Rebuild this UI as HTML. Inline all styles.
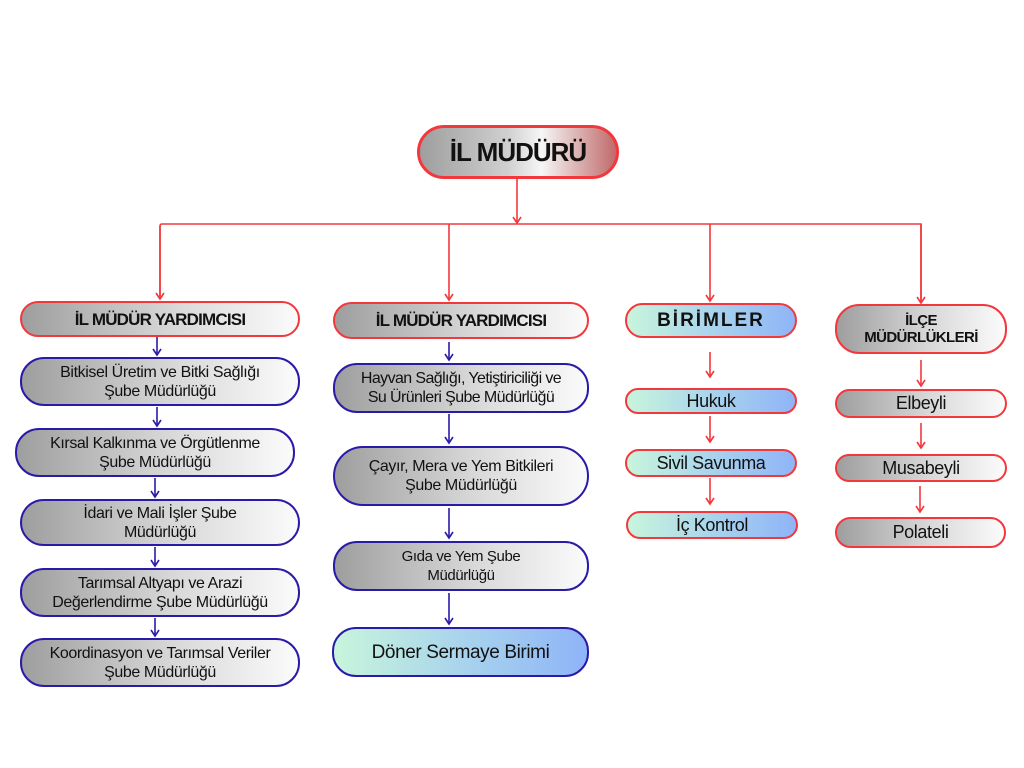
<!DOCTYPE html>
<html><head><meta charset="utf-8"><style>
body{margin:0;width:1024px;height:768px;background:#fff;position:relative;overflow:hidden;font-family:"Liberation Sans","DejaVu Sans",sans-serif}
.b{position:absolute;box-sizing:border-box;border-radius:24px;display:flex;align-items:center;justify-content:center;text-align:center;color:#111;font-size:15px;line-height:19px;letter-spacing:-0.4px}
.g{background:linear-gradient(90deg,#9e9e9e,#d8d8d8 55%,#fbfbfb)}
.r{border:2px solid #f2383c}
.u{border:2px solid #2a1aa8}
.c{background:linear-gradient(90deg,#c8f5dc,#a9d4ec 50%,#8fb4f8)}
.h{font-weight:bold;font-size:16px}
svg{position:absolute;left:0;top:0}
</style></head><body>
<svg width="1024" height="768">
<defs>
<marker id="ar" markerWidth="12" markerHeight="12" refX="9" refY="6" orient="auto" markerUnits="userSpaceOnUse"><path d="M3,2 L9,6 L3,10" fill="none" stroke="#f2383c" stroke-width="1.6"/></marker>
<marker id="ab" markerWidth="12" markerHeight="12" refX="9" refY="6" orient="auto" markerUnits="userSpaceOnUse"><path d="M3,2 L9,6 L3,10" fill="none" stroke="#2a1aa8" stroke-width="1.6"/></marker>
</defs>
<g stroke="#f2383c" stroke-width="1.6" fill="none">
<line x1="517" y1="178" x2="517" y2="223" marker-end="url(#ar)"/>
<path d="M160 299 V226 Q160 224 162 224 H921 V302"/>
<line x1="160" y1="226" x2="160" y2="299" marker-end="url(#ar)"/>
<line x1="449" y1="224" x2="449" y2="300" marker-end="url(#ar)"/>
<line x1="710" y1="224" x2="710" y2="301" marker-end="url(#ar)"/>
<line x1="921" y1="224" x2="921" y2="303" marker-end="url(#ar)"/>
<line x1="710" y1="352" x2="710" y2="377" marker-end="url(#ar)"/>
<line x1="710" y1="416" x2="710" y2="442" marker-end="url(#ar)"/>
<line x1="710" y1="478" x2="710" y2="504" marker-end="url(#ar)"/>
<line x1="921" y1="360" x2="921" y2="386" marker-end="url(#ar)"/>
<line x1="921" y1="423" x2="921" y2="448" marker-end="url(#ar)"/>
<line x1="920" y1="486" x2="920" y2="512" marker-end="url(#ar)"/>
</g>
<g stroke="#2a1aa8" stroke-width="1.6" fill="none">
<line x1="157" y1="337" x2="157" y2="355" marker-end="url(#ab)"/>
<line x1="157" y1="407" x2="157" y2="426" marker-end="url(#ab)"/>
<line x1="155" y1="478" x2="155" y2="497" marker-end="url(#ab)"/>
<line x1="155" y1="547" x2="155" y2="566" marker-end="url(#ab)"/>
<line x1="155" y1="618" x2="155" y2="636" marker-end="url(#ab)"/>
<line x1="449" y1="342" x2="449" y2="360" marker-end="url(#ab)"/>
<line x1="449" y1="414" x2="449" y2="443" marker-end="url(#ab)"/>
<line x1="449" y1="508" x2="449" y2="538" marker-end="url(#ab)"/>
<line x1="449" y1="593" x2="449" y2="624" marker-end="url(#ab)"/>
</g>
</svg>
<div class="b r h" style="left:417px;top:125px;width:202px;height:54px;border-radius:27px;border-width:3px;font-size:26px;letter-spacing:-1px;background:linear-gradient(90deg,#9e9e9e,#d0d0d0 45%,#f6f6f6 62%,#c06a6a)">İL MÜDÜRÜ</div>

<div class="b r g h" style="left:20px;top:301px;width:280px;height:36px;font-size:17px;letter-spacing:-0.8px">İL MÜDÜR YARDIMCISI</div>
<div class="b u g" style="left:20px;top:357px;width:280px;height:49px;font-size:16px">Bitkisel Üretim ve Bitki Sağlığı<br>Şube Müdürlüğü</div>
<div class="b u g" style="left:15px;top:428px;width:280px;height:49px;font-size:16px">Kırsal Kalkınma ve Örgütlenme<br>Şube Müdürlüğü</div>
<div class="b u g" style="left:20px;top:499px;width:280px;height:47px;font-size:16px">İdari ve Mali İşler Şube<br>Müdürlüğü</div>
<div class="b u g" style="left:20px;top:568px;width:280px;height:49px;font-size:16px">Tarımsal Altyapı ve Arazi<br>Değerlendirme Şube Müdürlüğü</div>
<div class="b u g" style="left:20px;top:638px;width:280px;height:49px;font-size:16px">Koordinasyon ve Tarımsal Veriler<br>Şube Müdürlüğü</div>

<div class="b r g h" style="left:333px;top:302px;width:256px;height:37px;font-size:17px;letter-spacing:-0.8px">İL MÜDÜR YARDIMCISI</div>
<div class="b u g" style="left:333px;top:363px;width:256px;height:50px;font-size:16px;letter-spacing:-0.6px">Hayvan Sağlığı, Yetiştiriciliği ve<br>Su Ürünleri Şube Müdürlüğü</div>
<div class="b u g" style="left:333px;top:446px;width:256px;height:60px;border-radius:30px;font-size:16px">Çayır, Mera ve Yem Bitkileri<br>Şube Müdürlüğü</div>
<div class="b u g" style="left:333px;top:541px;width:256px;height:50px;font-size:15px">Gıda ve Yem Şube<br>Müdürlüğü</div>
<div class="b u c" style="left:332px;top:627px;width:257px;height:50px;font-size:19px">Döner Sermaye Birimi</div>

<div class="b r c h" style="left:625px;top:303px;width:172px;height:35px;font-size:19px;letter-spacing:2px">BİRİMLER</div>
<div class="b r c" style="left:625px;top:388px;width:172px;height:26px;font-size:18px">Hukuk</div>
<div class="b r c" style="left:625px;top:449px;width:172px;height:28px;font-size:18px">Sivil Savunma</div>
<div class="b r c" style="left:626px;top:511px;width:172px;height:28px;font-size:18px">İç Kontrol</div>

<div class="b r g h" style="left:835px;top:304px;width:172px;height:50px;font-size:15px;line-height:17px;letter-spacing:-0.6px">İLÇE<br>MÜDÜRLÜKLERİ</div>
<div class="b r g" style="left:835px;top:389px;width:172px;height:29px;font-size:18px">Elbeyli</div>
<div class="b r g" style="left:835px;top:454px;width:172px;height:28px;font-size:18px">Musabeyli</div>
<div class="b r g" style="left:835px;top:517px;width:171px;height:31px;font-size:18px">Polateli</div>
</body></html>
